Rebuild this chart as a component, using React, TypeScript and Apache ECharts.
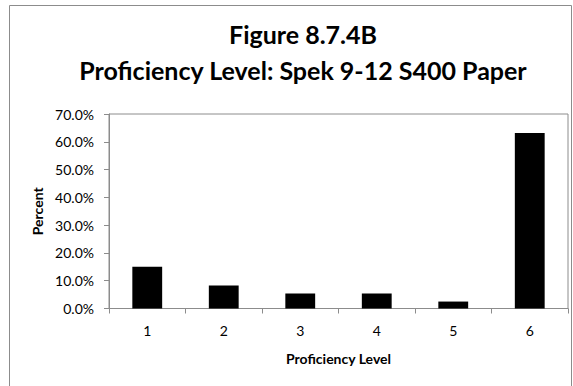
import React, { useEffect, useRef } from "react";
import * as echarts from "echarts";

const categories = ["1", "2", "3", "4", "5", "6"];
const percentValues = [15.0, 8.3, 5.4, 5.4, 2.5, 63.2];
const titleLines = ["Figure 8.7.4B", "Proficiency Level: Spek 9-12 S400 Paper"];

export default function App() {
  const ref = useRef<HTMLDivElement>(null);
  useEffect(() => {
    const chart = echarts.init(ref.current!, null, { renderer: "svg" });
    const font = "Lato, 'Open Sans', sans-serif";
    chart.setOption({
      animation: false,
      backgroundColor: "#ffffff",
      textStyle: { fontFamily: font },
      title: {
        text: titleLines.join("\n"),
        left: 298,
        textAlign: "center",
        top: 11,
        textStyle: { fontFamily: font, fontSize: 25, fontWeight: "bold", color: "#000", lineHeight: 36 },
      },
      graphic: [
        {
          type: "rect",
          shape: { x: 9.5, y: 5.5, width: 562, height: 420 },
          style: { fill: "none", stroke: "#8c8c8c", lineWidth: 1 },
          silent: true,
        },
      ],
      grid: {
        left: 109,
        right: 5,
        top: 114,
        bottom: 77.5,
        show: true,
        borderColor: "#8c8c8c",
        borderWidth: 1,
        backgroundColor: "transparent",
      },
      xAxis: {
        type: "category",
        data: categories,
        name: "Proficiency Level",
        nameLocation: "middle",
        nameGap: 43,
        nameTextStyle: { fontFamily: font, fontSize: 14, fontWeight: "bold", color: "#000" },
        axisLine: { lineStyle: { color: "#8c8c8c" } },
        axisTick: { show: true, length: 5, inside: false, lineStyle: { color: "#8c8c8c" } },
        axisLabel: { fontFamily: font, fontSize: 14, color: "#000", margin: 15 },
      },
      yAxis: {
        type: "value",
        min: 0,
        max: 70,
        interval: 10,
        name: "Percent",
        nameLocation: "middle",
        nameGap: 61,
        nameRotate: 90,
        nameTextStyle: { fontFamily: font, fontSize: 14, fontWeight: "bold", color: "#000" },
        axisLine: { show: true, lineStyle: { color: "#8c8c8c" } },
        axisTick: { show: true, length: 5, inside: false, lineStyle: { color: "#8c8c8c" } },
        splitLine: { show: false },
        axisLabel: {
          fontFamily: font,
          fontSize: 14,
          color: "#000",
          margin: 15,
          formatter: (v: number) => v.toFixed(1) + "%",
        },
      },
      series: [
        {
          type: "bar",
          data: percentValues,
          barWidth: "39%",
          itemStyle: { color: "#000000" },
        },
      ],
    });
    return () => chart.dispose();
  }, []);
  return (
    <div
      ref={ref}
      style={{ position: "absolute", left: 0, top: 0, width: 573, height: 386 }}
    />
  );
}
